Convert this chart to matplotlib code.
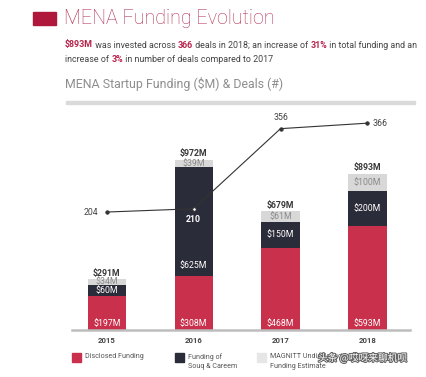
import numpy as np
import matplotlib.pyplot as plt
from matplotlib.patches import Rectangle
import matplotlib.patheffects as pe

plt.rcParams['font.family'] = ['Roboto', 'DejaVu Sans']

years = ['2015', '2016', '2017', '2018']
disclosed = [197, 308, 468, 593]
souq_careem = [60, 625, 150, 200]
undisclosed = [34, 39, 61, 100]
totals = ['$291M', '$972M', '$679M', '$893M']
deals = [204, 210, 356, 366]
legend_labels = ['Disclosed Funding', 'Funding of\nSouq & Careem', 'MAGNITT Undisclosed\nFunding Estimate']

red = '#C8304C'
dark = '#2B2C39'
light = '#D8D8D8'
accent = '#B8234A'

W, H = 426, 377
fig = plt.figure(figsize=(W / 100, H / 100), dpi=100)

def fx(px):
    return px / W

def fy(py):
    return 1 - py / H

# header
fig.patches.append(Rectangle((fx(33), fy(25)), fx(23), 13 / H, transform=fig.transFigure,
                             color='#B0173D', zorder=3))
fig.text(fx(64), fy(19), 'MENA Funding Evolution', fontsize=14.2, color='#B23358',
         va='center', ha='left', fontweight='light')

renderer = fig.canvas.get_renderer()

def rich_line(x, y, pieces):
    for txt, bold in pieces:
        t = fig.text(x, y, txt, fontsize=6.4, va='center', ha='left',
                     color=accent if bold else '#444444',
                     fontweight='bold' if bold else 'normal')
        bb = t.get_window_extent(renderer=renderer)
        x += bb.width / W

rich_line(fx(65), fy(45), [('$893M', True), (' was invested across ', False), ('366', True),
                           (' deals in 2018; an increase of ', False), ('31%', True),
                           (' in total funding and an', False)])
rich_line(fx(65), fy(60), [('increase of ', False), ('3%', True),
                           (' in number of deals compared to 2017', False)])

fig.text(fx(65), fy(84), 'MENA Startup Funding ($M) & Deals (#)', fontsize=8.9,
         color='#8E8E8E', va='center', ha='left')
fig.patches.append(Rectangle((fx(66), fy(104)), fx(349), 3 / H, transform=fig.transFigure,
                             color='#DADADA'))

# main chart
ax = fig.add_axes([fx(72), fy(330), fx(338), 220 / H])
x = np.arange(len(years))
w = 0.44
ax.bar(x, disclosed, w, color=red)
ax.bar(x, souq_careem, w, bottom=disclosed, color=dark)
bottom3 = np.array(disclosed) + np.array(souq_careem)
ax.bar(x, undisclosed, w, bottom=bottom3, color=light)
ax.set_xlim(-0.40, 3.49)
ax.set_ylim(0, 1257)

for i in range(len(years)):
    ax.text(x[i], 35, f'${disclosed[i]}M', ha='center', va='center', color='white', fontsize=6.3)
    ymid = disclosed[i] + souq_careem[i] / 2
    if souq_careem[i] > 300:
        ymid = disclosed[i] + 60
    ax.text(x[i], ymid, f'${souq_careem[i]}M', ha='center', va='center', color='white', fontsize=6.3)
    ax.text(x[i], bottom3[i] + undisclosed[i] / 2, f'${undisclosed[i]}M', ha='center',
            va='center', color='#8A8A8A', fontsize=6.3)
    ax.text(x[i], bottom3[i] + undisclosed[i] + 8, totals[i], ha='center', va='bottom',
            color='#3A3A3A', fontsize=6.3, fontweight='bold')

for s in ['top', 'left', 'right']:
    ax.spines[s].set_visible(False)
ax.spines['bottom'].set_color('#BDBDBD')
ax.spines['bottom'].set_linewidth(1.8)
ax.set_yticks([])
ax.set_xticks(x)
ax.set_xticklabels(years, fontsize=5.6, color='#444444', fontweight='bold')
ax.tick_params(axis='x', length=0, pad=5)

ax2 = ax.twinx()
ax2.set_ylim(-11, 390)
ax2.axis('off')
ax2.plot(x, deals, color='#333333', lw=0.8, zorder=5)
mfc = ['#333333', 'white', '#333333', '#333333']
for i in range(len(deals)):
    ax2.plot(x[i], deals[i], 'o', ms=2.5, mfc=mfc[i], mec='#333333', mew=0.6, zorder=6)
ax2.text(x[0] - 0.1, deals[0], str(deals[0]), ha='right', va='center', fontsize=6.3, color='#444444')
ax2.text(x[1], deals[1] - 12, str(deals[1]), ha='center', va='top', fontsize=6.3,
         color='white', fontweight='bold')
ax2.text(x[2], deals[2] + 12, str(deals[2]), ha='center', va='bottom', fontsize=6.3, color='#444444')
ax2.text(x[3] + 0.06, deals[3], str(deals[3]), ha='left', va='center', fontsize=6.3, color='#444444')

# legend
leg_colors = [red, dark, '#E6E6E6']
leg_x = [72, 175, 257]
for lx, c, lab in zip(leg_x, leg_colors, legend_labels):
    fig.patches.append(Rectangle((fx(lx), fy(362)), fx(9), 9 / H, transform=fig.transFigure, color=c))
    fig.text(fx(lx + 13), fy(353), lab, fontsize=5.1, color='#555555', va='top', ha='left',
             linespacing=1.5)

fig.text(fx(318), fy(358), '头条 @哎呀来聊机呗', fontsize=7, color='white', va='center', ha='left',
         family=['Noto Sans CJK SC', 'DejaVu Sans'],
         path_effects=[pe.withStroke(linewidth=1.5, foreground='#666666')])

fig.savefig('out.png', dpi=100)
